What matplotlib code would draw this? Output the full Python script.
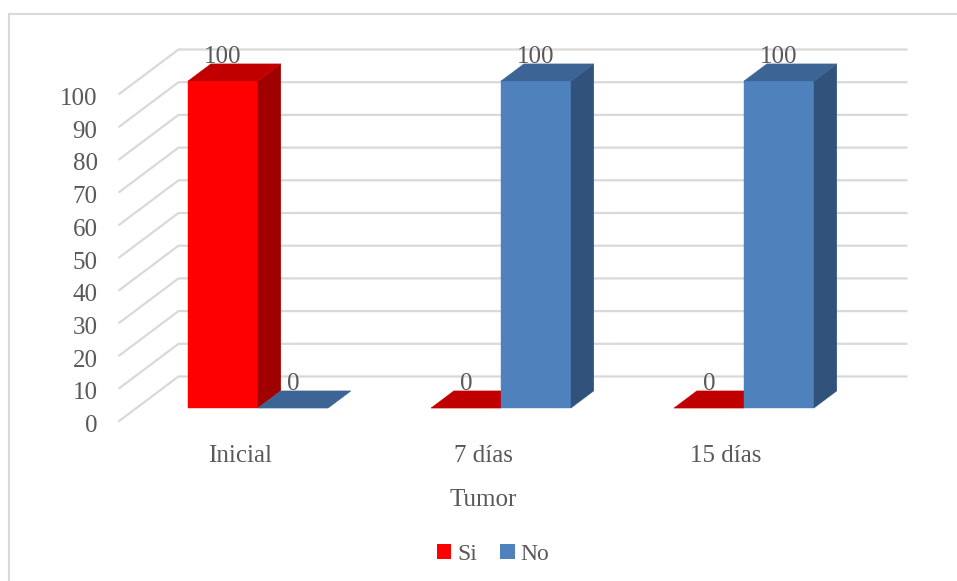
import matplotlib
matplotlib.use("Agg")
import matplotlib.pyplot as plt
from matplotlib.patches import Polygon, Patch
from matplotlib.lines import Line2D

# Data
categories = ["Inicial", "7 días", "15 días"]
series_names = ["Si", "No"]
si_values = [100, 0, 0]
no_values = [0, 100, 100]
y_ticks = [0, 10, 20, 30, 40, 50, 60, 70, 80, 90, 100]
axis_title = "Tumor"

# Style
FONT = "Liberation Serif"
TEXT = "#595959"
GRID = "#d9d9d9"
FACES = {
    "Si": ("#ff0000", "#c00000", "#a00000"),   # front, top, side
    "No": ("#4f81bd", "#3c6494", "#30527b"),
}

# pixel layout of the 3D box (front plane of the floor)
W, H = 957, 581
X0, Y0 = 240.0, 421.5        # category 0, value 0 at depth 0
CAT_PX = 243.0
VAL_PX = 3.27
DX = 60.0 / CAT_PX           # depth shift in category units
DY = 45.0 / VAL_PX           # depth shift in value units
BAR_W = 70.0 / CAT_PX
D0, D1 = 0.30, 0.68          # bar depth range
TXT_DROP = 3.5 / VAL_PX      # digits sit a bit low vs. bbox centre


def proj(x, v, d):
    return (x + DX * d, v + DY * d)


def draw_bar(ax, xl, h, colors):
    front, top, side = colors
    xr = xl + BAR_W
    faces = [
        ([(xl, 0, D0), (xr, 0, D0), (xr, h, D0), (xl, h, D0)], front),
        ([(xr, 0, D0), (xr, 0, D1), (xr, h, D1), (xr, h, D0)], side),
        ([(xl, h, D0), (xr, h, D0), (xr, h, D1), (xl, h, D1)], top),
    ]
    for pts, c in faces:
        ax.add_patch(Polygon([proj(*p) for p in pts], closed=True,
                             fc=c, ec=c, lw=0.3, zorder=3))


fig = plt.figure(figsize=(W / 100, H / 100), dpi=100)
ax = fig.add_axes([0, 0, 1, 1])
ax.set_xlim(-X0 / CAT_PX, (W - X0) / CAT_PX)
ax.set_ylim((Y0 - H) / VAL_PX, Y0 / VAL_PX)
ax.axis("off")

# chart border (left and top visible)
fig.add_artist(Line2D([8.5 / W, 8.5 / W], [0, 1 - 14 / H], color=GRID, lw=1.5))
fig.add_artist(Line2D([8.5 / W, 1], [1 - 14 / H, 1 - 14 / H], color=GRID, lw=1.5))

# back wall gridlines + side wall diagonals
x_wall_l, x_wall_r = -0.5, len(categories) - 0.5
for t in y_ticks:
    a = proj(x_wall_l, t, 0)
    b = proj(x_wall_l, t, 1)
    c = proj(x_wall_r, t, 1)
    ax.plot([a[0], b[0], c[0]], [a[1], b[1], c[1]], color=GRID, lw=1.6,
            solid_capstyle="butt", zorder=1)
    ax.text(x_wall_l - 21 / CAT_PX, t - 1.3 * TXT_DROP, str(t), ha="right",
            va="center", fontsize=18, family=FONT, color=TEXT)

# bars (left to right, red then blue)
for i in range(len(categories)):
    for j, (name, vals) in enumerate(zip(series_names, [si_values, no_values])):
        xl = i - BAR_W + j * BAR_W
        draw_bar(ax, xl, vals[i], FACES[name])
        lx, ly = proj(xl + BAR_W / 2, vals[i], D1)
        ax.text(xl + BAR_W / 2 + DX * D0, ly - 1.3 * TXT_DROP, str(vals[i]),
                ha="center", va="bottom", fontsize=18, family=FONT,
                color=TEXT, zorder=5)

# category labels
for i, cat in enumerate(categories):
    ax.text(i, (Y0 - 452) / VAL_PX - TXT_DROP, cat, ha="center", va="center",
            fontsize=18, family=FONT, color=TEXT)

ax.text((x_wall_l + x_wall_r) / 2, (Y0 - 497) / VAL_PX - TXT_DROP, axis_title,
        ha="center", va="center", fontsize=18, family=FONT, color=TEXT)

handles = [Patch(fc=FACES[n][0], ec="none", label=n) for n in series_names]
fig.legend(handles=handles, loc="center", bbox_to_anchor=(493 / W, 1 - 554 / H),
           ncol=2, frameon=False, handlelength=0.6, handleheight=0.6,
           handletextpad=0.25, columnspacing=1.0, borderpad=0,
           prop={"family": FONT, "size": 17}, labelcolor=TEXT)

fig.savefig("out.png", dpi=100)
